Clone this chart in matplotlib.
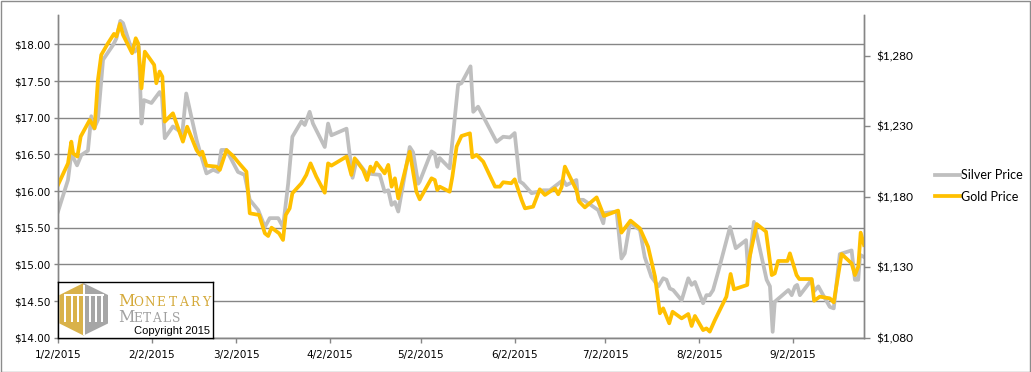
import matplotlib
matplotlib.use('Agg')
import matplotlib.pyplot as plt
import matplotlib.dates as mdates
from matplotlib.ticker import FixedLocator, FuncFormatter
from matplotlib.patches import Polygon, Rectangle
from datetime import datetime

# days after 1/2/2015 and prices
silver_days = [0.0, 3.3, 4.4, 6.3, 7.7, 9.9, 11.0, 11.9, 13.2, 14.9, 18.2, 19.3, 20.6, 21.5,
               23.7, 25.4, 26.7, 27.6, 28.4, 30.9, 33.6, 34.4, 35.3, 38.0, 41.1, 42.4, 44.1,
               45.8, 47.4, 49.1, 51.3, 52.9, 54.0, 55.7, 59.5, 61.7, 63.4, 66.2, 68.4, 70.0,
               72.8, 74.4, 76.1, 77.5, 80.5, 81.6, 83.2, 84.3, 88.2, 89.3, 90.4, 95.4, 97.4,
               98.7, 102.0, 106.4, 108.0, 109.2, 110.3, 111.4, 112.5, 116.3, 117.4, 119.1,
               119.6, 123.5, 124.6, 125.4, 126.2, 129.5, 132.3, 133.4, 136.4, 137.3, 138.9,
               145.0, 147.2, 149.4, 151.0, 152.7, 153.8, 156.6, 158.8, 160.4, 162.6, 164.8,
               167.0, 168.1, 171.4, 172.0, 173.7, 178.6, 180.3, 180.8, 184.7, 186.3, 187.4,
               189.1, 192.4, 194.0, 196.2, 198.5, 200.1, 201.2, 202.3, 203.4, 206.2, 208.4,
               209.5, 210.6, 213.3, 214.4, 215.5, 216.6, 218.3, 222.2, 224.1, 227.5, 228.2,
               230.1, 234.3, 235.4, 236.3, 237.0, 241.5, 242.6, 243.7, 244.4, 245.3, 249.2,
               249.9, 251.4, 253.0, 255.2, 256.5, 258.5, 262.4, 263.5, 264.6, 265.2, 266.5]
silver_price = [15.72, 16.15, 16.51, 16.35, 16.49, 16.55, 17.02, 16.85, 16.97, 17.79, 17.99,
                18.08, 18.32, 18.29, 18.01, 17.90, 17.97, 16.92, 17.24, 17.20, 17.35, 17.28,
                16.72, 16.88, 16.79, 17.33, 17.01, 16.70, 16.47, 16.24, 16.29, 16.26, 16.56,
                16.56, 16.26, 16.22, 15.88, 15.74, 15.51, 15.63, 15.63, 15.51, 16.10, 16.74,
                16.95, 16.90, 17.08, 16.92, 16.60, 16.92, 16.76, 16.85, 16.18, 16.42, 16.24,
                16.22, 15.99, 16.01, 15.81, 15.85, 15.72, 16.60, 16.53, 16.10, 16.13, 16.54,
                16.51, 16.33, 16.45, 16.31, 17.45, 17.47, 17.70, 17.08, 17.15, 16.67, 16.74,
                16.73, 16.79, 16.13, 16.10, 15.97, 15.99, 16.01, 16.01, 16.08, 16.15, 16.08,
                16.15, 15.88, 15.88, 15.74, 15.56, 15.70, 15.72, 15.08, 15.15, 15.56, 15.47,
                15.10, 14.83, 14.70, 14.81, 14.79, 14.67, 14.65, 14.51, 14.81, 14.72, 14.76,
                14.47, 14.58, 14.58, 14.65, 14.90, 15.51, 15.22, 15.33, 14.90, 15.58, 14.79,
                14.70, 14.08, 14.49, 14.65, 14.58, 14.70, 14.72, 14.58, 14.79, 14.63, 14.70,
                14.58, 14.42, 14.40, 15.14, 15.19, 14.79, 14.79, 15.13, 15.10]

gold_days = [0.0, 3.3, 4.4, 5.0, 6.4, 7.5, 10.5, 12.1, 13.2, 14.3, 16.5, 18.5, 19.3, 20.5,
             21.5, 24.5, 25.7, 26.5, 27.6, 28.7, 31.8, 32.5, 33.6, 34.5, 35.3, 38.0, 41.3,
             42.7, 45.8, 46.9, 47.7, 49.1, 52.4, 53.5, 55.7, 57.9, 59.9, 62.3, 63.4, 66.5,
             68.4, 69.5, 70.6, 73.1, 74.4, 75.3, 76.6, 77.5, 80.5, 82.1, 83.5, 85.4, 88.2,
             89.3, 90.4, 95.4, 97.0, 98.1, 100.9, 102.2, 103.3, 104.2, 105.3, 108.0, 109.2,
             110.3, 111.4, 112.5, 116.3, 118.5, 119.6, 123.5, 124.6, 125.4, 126.2, 129.5,
             130.4, 131.8, 133.4, 136.2, 137.0, 138.4, 140.6, 144.5, 146.1, 147.2, 149.9,
             151.0, 153.3, 154.4, 157.1, 159.3, 161.0, 164.3, 165.4, 166.5, 167.6, 171.4,
             172.3, 174.2, 178.1, 180.5, 185.2, 186.3, 189.3, 192.4, 195.1, 197.4, 199.0,
             200.1, 202.1, 203.2, 206.2, 208.4, 209.5, 210.6, 213.3, 214.4, 215.5, 217.2,
             221.0, 222.4, 223.5, 227.9, 228.6, 231.0, 234.1, 236.0, 237.0, 238.1, 241.2,
             242.0, 244.2, 245.1, 249.2, 250.0, 251.9, 255.2, 256.5, 259.1, 262.4, 263.5,
             264.6, 265.4, 266.5]
gold_price = [1188.3, 1203.6, 1219.0, 1210.7, 1208.4, 1222.6, 1234.4, 1228.5, 1262.7, 1280.5,
              1288.7, 1295.4, 1293.5, 1302.5, 1294.7, 1281.7, 1292.3, 1288.7, 1256.8, 1282.8,
              1273.4, 1260.4, 1268.7, 1265.1, 1233.2, 1239.1, 1219.0, 1229.6, 1213.1, 1209.6,
              1211.9, 1202.0, 1201.3, 1198.9, 1213.1, 1208.8, 1203.6, 1197.7, 1168.2, 1167.0,
              1154.0, 1152.1, 1158.0, 1154.0, 1149.3, 1167.0, 1171.7, 1182.4, 1189.5, 1195.4,
              1203.6, 1194.2, 1182.8, 1203.6, 1202.0, 1208.4, 1195.4, 1207.2, 1198.9, 1191.8,
              1201.3, 1197.7, 1204.1, 1196.5, 1202.5, 1187.1, 1193.0, 1178.8, 1211.9, 1183.5,
              1178.1, 1193.0, 1191.8, 1184.7, 1187.1, 1183.5, 1194.2, 1215.5, 1223.0, 1224.9,
              1207.9, 1209.6, 1204.8, 1187.1, 1187.1, 1190.2, 1189.5, 1192.3, 1177.6, 1171.7,
              1172.9, 1185.2, 1181.2, 1185.9, 1181.7, 1186.6, 1201.3, 1184.7, 1176.5, 1172.4,
              1179.5, 1166.3, 1170.1, 1154.5, 1163.0, 1157.5, 1144.5, 1123.3, 1097.3, 1100.8,
              1090.2, 1098.4, 1093.7, 1096.8, 1088.3, 1095.4, 1085.4, 1086.6, 1084.3, 1092.5,
              1109.1, 1125.2, 1114.3, 1117.4, 1136.3, 1160.6, 1155.2, 1124.4, 1125.6, 1134.4,
              1134.4, 1139.8, 1124.4, 1121.6, 1121.6, 1106.2, 1109.1, 1107.9, 1105.1, 1139.3,
              1132.7, 1124.4, 1130.4, 1154.5, 1145.7]

silver_ticks = [14.0, 14.5, 15.0, 15.5, 16.0, 16.5, 17.0, 17.5, 18.0]
gold_ticks = [1080, 1130, 1180, 1230, 1280]
month_ticks = [datetime(2015, m, 2) for m in range(1, 10)]

start = mdates.date2num(datetime(2015, 1, 2))
sx = [start + d for d in silver_days]
gx = [start + d for d in gold_days]

W, H = 1031, 372
fig = plt.figure(figsize=(W / 100, H / 100), dpi=100)
ax = fig.add_axes([58 / W, (H - 337.7) / H, (864 - 58) / W, 323 / H])
ax2 = ax.twinx()

grid_c = '#868686'
ax.plot(sx, silver_price, color='#BFBFBF', lw=2.7, solid_joinstyle='round', label='Silver Price')
ax2.plot(gx, gold_price, color='#FFC000', lw=2.7, solid_joinstyle='round', label='Gold Price')

ax.set_xlim(start, start + 266.5)
ax.set_ylim(14, 18.404)
ax2.set_ylim(1080, 1309)

ax.yaxis.set_major_locator(FixedLocator(silver_ticks))
ax.yaxis.set_major_formatter(FuncFormatter(lambda v, p: '${:.2f}'.format(v)))
ax2.yaxis.set_major_locator(FixedLocator(gold_ticks))
ax2.yaxis.set_major_formatter(FuncFormatter(lambda v, p: '${:,.0f}'.format(v)))
ax.xaxis.set_major_locator(FixedLocator(mdates.date2num(month_ticks)))
ax.xaxis.set_major_formatter(FuncFormatter(
    lambda v, p: '{d.month}/{d.day}/{d.year}'.format(d=mdates.num2date(v))))

ax.grid(axis='y', color=grid_c, lw=1)
ax.set_axisbelow(True)
for a in (ax, ax2):
    a.spines['top'].set_visible(False)
    for s in ('left', 'right', 'bottom'):
        a.spines[s].set_color(grid_c)
        a.spines[s].set_linewidth(1)
ax.tick_params(axis='y', length=3, width=1, color=grid_c, pad=2.5, labelsize=7.5)
ax.tick_params(axis='x', length=3.5, width=1, color=grid_c, pad=5, labelsize=7.5)
for t in ax.get_xticklabels() + ax.get_yticklabels():
    t.set_fontfamily('DejaVu Sans')
ax2.tick_params(axis='y', length=4, width=1, color=grid_c, pad=5, labelsize=8.5)
for t in ax2.get_yticklabels():
    t.set_fontfamily('Lato')

h1, l1 = ax.get_legend_handles_labels()
h2, l2 = ax2.get_legend_handles_labels()
fig.legend(h1 + h2, l1 + l2, loc='center left', bbox_to_anchor=(924 / W, 1 - 186 / H),
           frameon=False, handlelength=2.0, handletextpad=0.05, labelspacing=0.75,
           prop={'family': 'Lato', 'size': 9})

# logo box
lg = fig.add_axes([58 / W, (H - 337.5) / H, 155 / W, 56 / H])
lg.set_xlim(0, 155)
lg.set_ylim(56, 0)
lg.set_xticks([])
lg.set_yticks([])
lg.set_facecolor('white')
for s in lg.spines.values():
    s.set_color('black')
    s.set_linewidth(1)
gold_logo = '#D9B24A'
gray_logo = '#A6A6A6'
lg.add_patch(Polygon([(25.5, 1.5), (1.5, 13.5), (1.5, 42), (25.5, 54)], color=gold_logo, lw=0))
lg.add_patch(Polygon([(25.5, 1.5), (50, 13.5), (50, 42), (25.5, 54)], color=gray_logo, lw=0))
for bx in (6, 12.5, 18.5, 30.5, 36.5, 43):
    lg.add_patch(Rectangle((bx, 14), 2.2, 26, color='white', lw=0))
lg.add_patch(Rectangle((6, 12), 40, 2.2, color='white', lw=0))
lg.add_patch(Rectangle((24.5, 3), 2.2, 50, color='white', lw=0))

def spaced(word, x0, x1, y, big, small, color):
    lg.text(x0, y, word[0], fontsize=big, family='DejaVu Serif', color=color,
            va='baseline', ha='left')
    step = (x1 - x0 - 15) / (len(word) - 1)
    for i, ch in enumerate(word[1:]):
        lg.text(x0 + 15 + step * (i + 0.5), y, ch, fontsize=small, family='DejaVu Serif',
                color=color, va='baseline', ha='center')

spaced('MONETARY', 60, 154, 25, 11.5, 8.8, '#D4A93A')
spaced('METALS', 60, 123, 40, 11.5, 8.8, '#A0A0A0')
lg.text(114.5, 49.5, 'Copyright 2015', fontsize=8, family='Liberation Sans', color='black',
        ha='center', va='center')

fig.patches.append(Rectangle((0.5 / W, 0.5 / H), (W - 1.5) / W, (H - 1.5) / H,
                             transform=fig.transFigure, fill=False, edgecolor='#8c8c8c', lw=1))

fig.savefig('out.png', dpi=100)
